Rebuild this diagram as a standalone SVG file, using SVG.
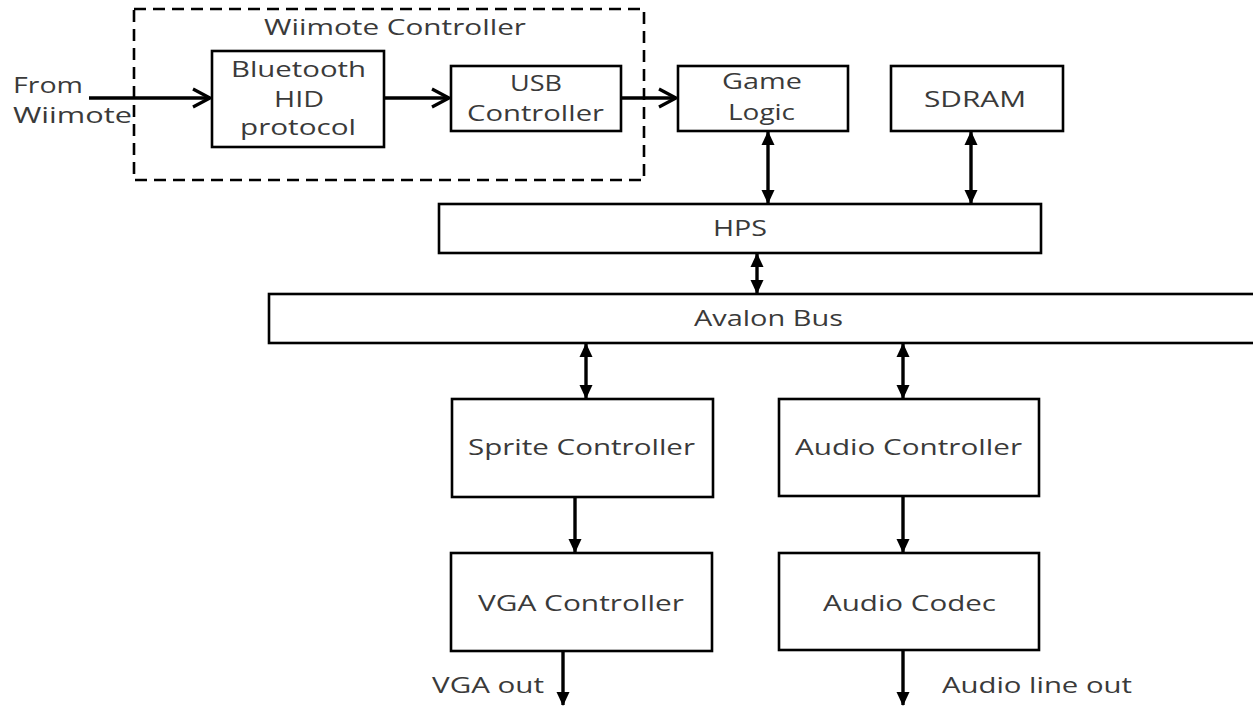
<svg xmlns="http://www.w3.org/2000/svg" width="1253" height="706" viewBox="0 0 1253 706">
<style>
.box{fill:#fff;stroke:#000;stroke-width:2.6}
.dash{fill:none;stroke:#000;stroke-width:2.6;stroke-dasharray:12 7}
.t{font-family:"Open Sans","Liberation Sans",sans-serif;font-size:21px;fill:#3a3a3a;text-anchor:middle}
.s{text-anchor:start}
.c{stroke:#000;stroke-width:3.4;fill:none}
</style>
<defs>
<marker id="chev" markerUnits="userSpaceOnUse" markerWidth="22" markerHeight="22" viewBox="0 0 22 22" refX="19" refY="11" orient="auto">
<path d="M2,2 L19,11 L2,20" fill="none" stroke="#000" stroke-width="3.2"/>
</marker>
<marker id="tri" markerUnits="userSpaceOnUse" markerWidth="14" markerHeight="14" viewBox="0 0 14 14" refX="13" refY="7" orient="auto-start-reverse">
<path d="M0,0.5 L14,7 L0,13.5 z" fill="#000"/>
</marker>
</defs>
<rect id="wiimote-group" class="dash" x="134" y="9" width="510" height="171"/>
<text class="t" x="395" y="35" textLength="262" lengthAdjust="spacingAndGlyphs">Wiimote Controller</text>
<g id="input-label">
<text class="t s" x="13" y="93" textLength="70" lengthAdjust="spacingAndGlyphs">From</text>
<text class="t s" x="13" y="123" textLength="119" lengthAdjust="spacingAndGlyphs">Wiimote</text>
</g>
<g id="bluetooth">
<rect class="box" x="212" y="51" width="172" height="96"/>
<text class="t" x="298.5" y="77" textLength="135" lengthAdjust="spacingAndGlyphs">Bluetooth</text>
<text class="t" x="299" y="107" textLength="50" lengthAdjust="spacingAndGlyphs">HID</text>
<text class="t" x="298" y="135" textLength="116" lengthAdjust="spacingAndGlyphs">protocol</text>
</g>
<g id="usb">
<rect class="box" x="451" y="66" width="170" height="65"/>
<text class="t" x="536" y="91" textLength="52" lengthAdjust="spacingAndGlyphs">USB</text>
<text class="t" x="535.5" y="121" textLength="137" lengthAdjust="spacingAndGlyphs">Controller</text>
</g>
<g id="game-logic">
<rect class="box" x="678" y="66" width="170" height="65"/>
<text class="t" x="762" y="89" textLength="80" lengthAdjust="spacingAndGlyphs">Game</text>
<text class="t" x="761.5" y="120" textLength="67" lengthAdjust="spacingAndGlyphs">Logic</text>
</g>
<g id="sdram">
<rect class="box" x="891" y="66" width="172" height="65"/>
<text class="t" x="975" y="107" textLength="102" lengthAdjust="spacingAndGlyphs">SDRAM</text>
</g>
<g id="hps">
<rect class="box" x="439" y="204" width="602" height="49"/>
<text class="t" x="740" y="236" textLength="54" lengthAdjust="spacingAndGlyphs">HPS</text>
</g>
<g id="avalon">
<rect class="box" x="269" y="294" width="1000" height="49"/>
<text class="t" x="768.5" y="326" textLength="149" lengthAdjust="spacingAndGlyphs">Avalon Bus</text>
</g>
<g id="sprite">
<rect class="box" x="452" y="399" width="261" height="98"/>
<text class="t" x="581.5" y="455" textLength="227" lengthAdjust="spacingAndGlyphs">Sprite Controller</text>
</g>
<g id="audio-controller">
<rect class="box" x="779" y="399" width="260" height="97"/>
<text class="t" x="908.5" y="455" textLength="227" lengthAdjust="spacingAndGlyphs">Audio Controller</text>
</g>
<g id="vga">
<rect class="box" x="451" y="553" width="261" height="98"/>
<text class="t" x="581" y="611" textLength="206" lengthAdjust="spacingAndGlyphs">VGA Controller</text>
</g>
<g id="audio-codec">
<rect class="box" x="779" y="553" width="260" height="97"/>
<text class="t" x="909.5" y="611" textLength="173" lengthAdjust="spacingAndGlyphs">Audio Codec</text>
</g>
<g id="connectors">
<line class="c" x1="89" y1="98" x2="210" y2="98" marker-end="url(#chev)"/>
<line class="c" x1="385" y1="98" x2="449" y2="98" marker-end="url(#chev)"/>
<line class="c" x1="622" y1="98" x2="676" y2="98" marker-end="url(#chev)"/>
<line class="c" x1="768" y1="132" x2="768" y2="203" marker-start="url(#tri)" marker-end="url(#tri)"/>
<line class="c" x1="971" y1="132" x2="971" y2="203" marker-start="url(#tri)" marker-end="url(#tri)"/>
<line class="c" x1="757" y1="254" x2="757" y2="293" marker-start="url(#tri)" marker-end="url(#tri)"/>
<line class="c" x1="586" y1="344" x2="586" y2="398" marker-start="url(#tri)" marker-end="url(#tri)"/>
<line class="c" x1="903" y1="344" x2="903" y2="398" marker-start="url(#tri)" marker-end="url(#tri)"/>
<line class="c" x1="575" y1="498" x2="575" y2="552" marker-end="url(#tri)"/>
<line class="c" x1="903" y1="497" x2="903" y2="552" marker-end="url(#tri)"/>
<line class="c" x1="563" y1="652" x2="563" y2="705" marker-end="url(#tri)"/>
<line class="c" x1="903" y1="651" x2="903" y2="705" marker-end="url(#tri)"/>
</g>
<g id="output-labels">
<text class="t s" x="432" y="693" textLength="112" lengthAdjust="spacingAndGlyphs">VGA out</text>
<text class="t s" x="942" y="693" textLength="190" lengthAdjust="spacingAndGlyphs">Audio line out</text>
</g>
</svg>
